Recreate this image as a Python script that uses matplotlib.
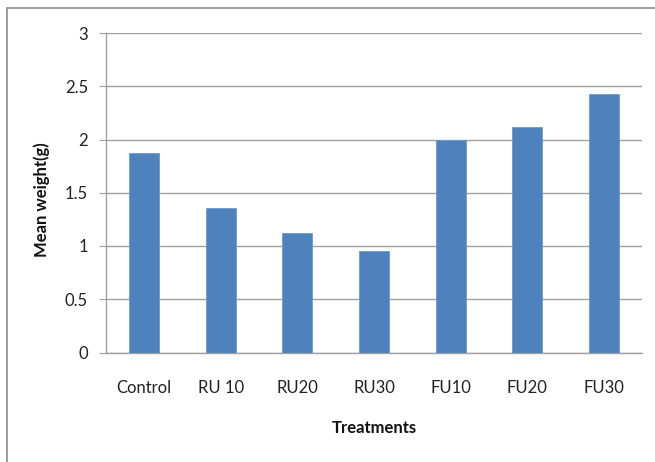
import matplotlib.pyplot as plt
from matplotlib.patches import Rectangle

# Dane
treatments = ["Control", "RU 10", "RU20", "RU30", "FU10", "FU20", "FU30"]
mean_weight = [1.87, 1.36, 1.12, 0.95, 2.00, 2.12, 2.43]
y_ticks = [0, 0.5, 1, 1.5, 2, 2.5, 3]

plt.rcParams['font.family'] = ['Lato', 'DejaVu Sans']

fig = plt.figure(figsize=(6.55, 4.62), dpi=100)
ax = fig.add_axes([106/655, 1 - 352.5/462, (642-106)/655, (352.5-33)/462])

x = range(len(treatments))
ax.bar(x, mean_weight, width=0.39, color="#4F81BD", edgecolor="#6E9BD0", linewidth=0.6, zorder=3)

ax.set_xlim(-0.5, len(treatments) - 0.5)
ax.set_ylim(0, 3)
ax.set_yticks(y_ticks)
ax.set_yticklabels([f"{t:g}" for t in y_ticks])
ax.set_xticks(list(x))
ax.set_xticklabels(treatments)

ax.yaxis.grid(True, color="#A0A0A0", linewidth=1.0, zorder=0)
for s in ["top", "right"]:
    ax.spines[s].set_visible(False)
for s in ["left", "bottom"]:
    ax.spines[s].set_color("#A0A0A0")
    ax.spines[s].set_linewidth(1.0)

ax.tick_params(axis="y", length=5, color="#A0A0A0", labelsize=12, labelcolor="#222222", pad=8)
ax.tick_params(axis="x", length=0, labelsize=12, labelcolor="#222222", pad=20)

fig.text(42/655, 1 - 200/462, "Mean weight(g)", rotation=90, ha="center", va="center",
         fontsize=12, fontweight="bold", color="#111111")
fig.text(374/655, 1 - 428/462, "Treatments", ha="center", va="center",
         fontsize=12, fontweight="bold", color="#111111")

# ramka wykresu
fig.patches.append(Rectangle((7/655, -0.1), 1.2, 1 - 8/462 + 0.1, transform=fig.transFigure,
                             fill=False, edgecolor="#8C8C8C", linewidth=1.2))

fig.savefig("out.png", dpi=100)
